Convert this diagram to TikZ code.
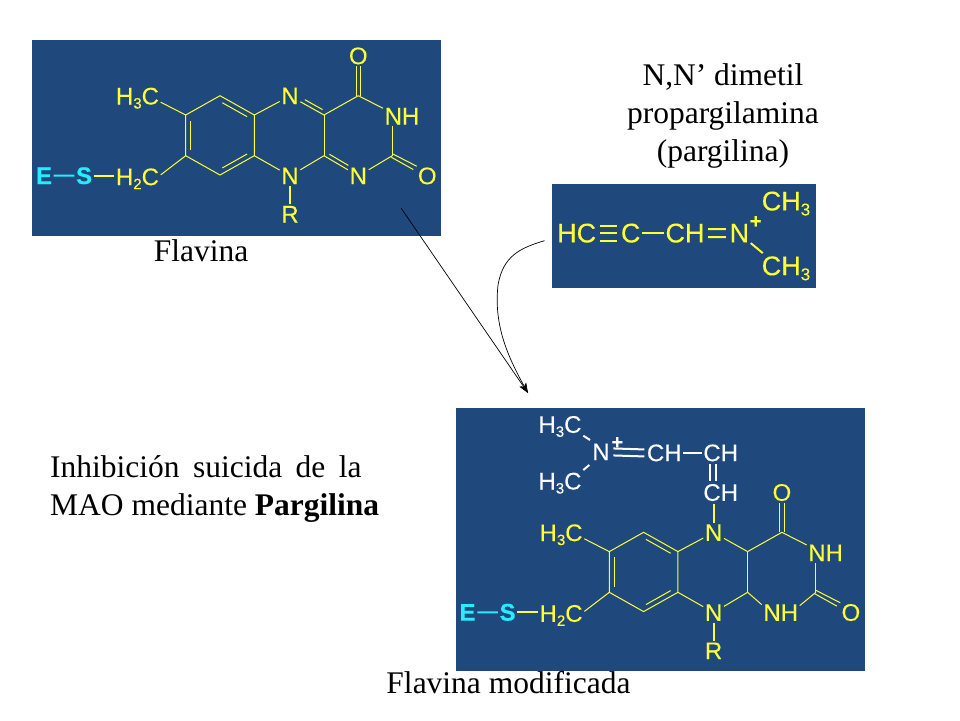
\documentclass[tikz,border=0pt]{standalone}
\usepackage{fontspec}
\setmainfont{Liberation Serif}
\newfontfamily\chemfont[FakeBold=0.12]{Liberation Sans}
\newfontfamily\chembold[FakeBold=0.4]{Liberation Sans Bold}
\usetikzlibrary{calc,arrows.meta}
\definecolor{panelblue}{RGB}{31,73,125}
\definecolor{chemyellow}{RGB}{255,255,51}
\definecolor{chemcyan}{RGB}{34,238,255}
\newcommand{\chemsub}[1]{\raisebox{-4pt}{\fontsize{15}{15}\selectfont #1}}
\newcommand{\bigsub}[1]{\raisebox{-5pt}{\fontsize{17}{17}\selectfont #1}}
\tikzset{
  panel/.style={fill=panelblue,draw=none},
  atom/.style={font=\chemfont\fontsize{24}{24}\selectfont,text=chemyellow,anchor=base,yshift=-8.5pt,inner sep=1.5pt},
  bigatom/.style={atom,font=\chemfont\fontsize{27}{27}\selectfont,yshift=-1.2pt},
  whiteatom/.style={atom,text=white},
  cyanatom/.style={atom,text=chemcyan,font=\chembold\fontsize{24}{24}\selectfont},
  plus/.style={font=\chembold\fontsize{20}{20}\selectfont,inner sep=0pt},
  thin bond/.style={draw=chemyellow,line width=1pt},
  thick bond/.style={draw=chemyellow,line width=2pt},
  white bond/.style={draw=white,line width=2pt},
  cyan bond/.style={draw=chemcyan,line width=2pt},
  caption/.style={font=\fontsize{31.5}{38}\selectfont,text=black,inner sep=0pt},
  pointer/.style={draw=black,line width=0.7pt,-{Stealth[length=10pt,width=7pt]}}
}
% inner line of a double bond, on the left of a -> b
\newcommand{\inner}[2]{\draw[thin bond] ($(#1)!0.14!(#2)!5pt!90:(#2)$) -- ($(#2)!0.14!(#1)!5pt!-90:(#1)$);}
\newcommand{\benzene}{%
  \coordinate (a1) at (185.7,115);
  \coordinate (a2) at (220,95.7);
  \coordinate (a3) at (254.3,115);
  \coordinate (a4) at (254.3,155.7);
  \coordinate (a5) at (220,175);
  \coordinate (a6) at (185.7,155.7);
  \coordinate (c1) at (324,115);
  \coordinate (c2) at (324,155.7);
  \coordinate (c3) at (358.3,95.7);
  \coordinate (c4) at (392.3,155.7);
  \node[atom] (top) at (290,95.7) {N};
  \node[atom] (bot) at (290,175.7) {N};
  \node[atom] (r) at (290,214) {R};
  \node[atom] (o1) at (358.3,55.7) {O};
  \node[atom] (o2) at (427.3,175.7) {O};
  \node[atom] (ch3) at (137.5,96) {H\chemsub{3}C};
  \node[atom] (ch2) at (137.5,176.7) {H\chemsub{2}C};
  \node[cyanatom] (s) at (84,175.5) {S};
  \node[cyanatom] (e) at (44,175.5) {E};
  \draw[thin bond] (a1)--(a2)--(a3)--(a4)--(a5)--(a6)--cycle;
  \inner{a3}{a2}\inner{a5}{a4}\inner{a1}{a6}
  \draw[thin bond] ($(ch3.east)+(0,4)$)--(a1);
  \draw[thin bond] ($(ch2.east)+(0,-4)$)--(a6);
  \draw[thin bond] (a3)--(top);
  \draw[thin bond] (a4)--(bot);
  \draw[thin bond] (c1)--(c2);
  \draw[thin bond] (c1)--(c3);
  \draw[thin bond] (c2)--(bot);
  \draw[thick bond] (bot)--(r);
  \draw[thin bond] ($(c3)+(2.3,0)$)--($(o1.south)+(2.3,0)$);
  \draw[thin bond] ($(c3)+(-2.3,0)$)--($(o1.south)+(-2.3,0)$);
  \draw[thick bond] (s.east)--(ch2.west |- s.east);
  \draw[cyan bond] (e)--(s);
  \draw[thin bond] ($(c4)+(0,-2)$)--($(o2)+(-10.6,-9.7)$);
  \draw[thin bond] ($(c4)+(-1,1.5)$)--($(o2)+(-14,-6.4)$);
}
\begin{document}
\begin{tikzpicture}[x=1pt,y=-1pt]
\useasboundingbox (0,0) rectangle (960,720);
\fill[white] (0,0) rectangle (960,720);
% panels
\node[panel,minimum width=409pt,minimum height=196pt,inner sep=0pt] (p1) at (236.5,138) {};
\node[panel,minimum width=264pt,minimum height=104pt,inner sep=0pt] (p2) at (684,236) {};
\node[panel,minimum width=409pt,minimum height=263pt,inner sep=0pt] (p3) at (660.5,539.5) {};
% flavin
\begin{scope}
  \benzene
  \node[atom] (nh) at (402,116) {NH};
  \node[atom] (n3) at (358.3,175.7) {N};
  \draw[thin bond] (top)--(c1);
  \draw[thin bond] ($(top)!0.38!(c1)!4pt!90:(c1)$)--($(c1)!0.1!(top)!4pt!-90:(top)$);
  \draw[thin bond] (c2)--(n3);
  \draw[thin bond] ($(c2)!0.1!(n3)!4pt!90:(n3)$)--($(n3)!0.35!(c2)!4pt!-90:(c2)$);
  \draw[thin bond] (c3)--($(nh.north west)+(0,2)$);
  \draw[thin bond] (c4|-nh.south)--(c4);
  \draw[thin bond] (c4)--(n3);
\end{scope}
% modified flavin
\begin{scope}[shift={(423.6,436.6)}]
  \benzene
  \node[atom] (nh) at (402,116) {NH};
  \node[atom] (nhb) at (357.1,175.7) {NH};
  \draw[thin bond] (top)--(c1);
  \draw[thin bond] (c2)--($(nhb.north west)+(0,2)$);
  \draw[thin bond] (c3)--($(nh.north west)+(0,2)$);
  \draw[thin bond] (c4|-nh.south)--(c4);
  \draw[thin bond] (c4)--($(nhb.north east)+(0,3)$);
\end{scope}
% side chain of the modified flavin
\node[whiteatom] (wh1) at (560,424.3) {H\chemsub{3}C};
\node[whiteatom] (wh2) at (560,481) {H\chemsub{3}C};
\node[whiteatom] (wn) at (601,451.7) {N};
\node[whiteatom] (wc1) at (664.3,452.7) {CH};
\node[whiteatom] (wc2) at (720.7,452.7) {CH};
\node[whiteatom] (wc3) at (720.7,492.3) {CH};
\node[plus,text=white] (wplus) at (617.3,443) {+};
\draw[white bond] (583.3,435.7)--(590,440);
\draw[white bond] (583.3,470)--(589.3,465);
\draw[white bond] ($(wn.east)+(2,-3.5)$)--($(wc1.west)+(-1,-3.5)$);
\draw[white bond] ($(wn.east)+(2,3.5)$)--($(wc1.west)+(-1,3.5)$);
\draw[white bond] (wc1.east)--(wc2.west);
\draw[white bond] ($(wc2.south)+(-11,1)$)--($(wc3.north)+(-11,-1)$);
\draw[white bond] ($(wc2.south)+(-5,1)$)--($(wc3.north)+(-5,-1)$);
\draw[thick bond] (wc3.south -| top.north)++(0,1)--(top.north);
% pargyline
\node[bigatom] (hc) at (576.7,232.7) {HC};
\node[bigatom] (cc) at (630.7,232.7) {C};
\node[bigatom] (chn) at (685,232.7) {CH};
\node[bigatom] (nn) at (739.3,232.7) {N};
\node[bigatom] (me1) at (786,200.7) {CH\bigsub{3}};
\node[bigatom] (me2) at (786,265.5) {CH\bigsub{3}};
\node[plus,text=chemyellow] (nplus) at (755.7,222) {+};
\draw[thick bond] ($(hc.east)+(2,0)$)--($(cc.west)+(-2,0)$);
\draw[thick bond] ($(hc.east)+(2,-7.5)$)--($(cc.west)+(-2,-7.5)$);
\draw[thick bond] ($(hc.east)+(2,7.5)$)--($(cc.west)+(-2,7.5)$);
\draw[thick bond] (cc.east)--(chn.west);
\draw[thick bond] ($(chn.east)+(2,-4)$)--($(nn.west)+(-2,-4)$);
\draw[thick bond] ($(chn.east)+(2,4)$)--($(nn.west)+(-2,4)$);
\draw[thick bond] (nn.south east)++(0,-1)--++(12,10);
% captions
\node[caption] (t1) at (201,251) {Flavina};
\node[caption,align=center] (t2) at (723,116) {N,N’ dimetil\\propargilamina\\(pargilina)};
\node[caption,align=left,anchor=west] (t3) at (50,489) {Inhibición\hspace{5.5pt} suicida\hspace{5.5pt} de\hspace{5.5pt} la\\MAO mediante \textbf{Pargilina}};
\node[caption] (t4) at (508.5,683) {Flavina modificada};
% arrows
\coordinate (from1) at (401,208);
\coordinate (from2) at (544.5,240.7);
\coordinate (to) at (528,393);
\draw[pointer] (from1)--(to);
\draw[pointer] (from2) .. controls (520,248) and (503,256) .. (498,285) .. controls (494,322) and (505,352) .. (to);
\end{tikzpicture}
\end{document}
